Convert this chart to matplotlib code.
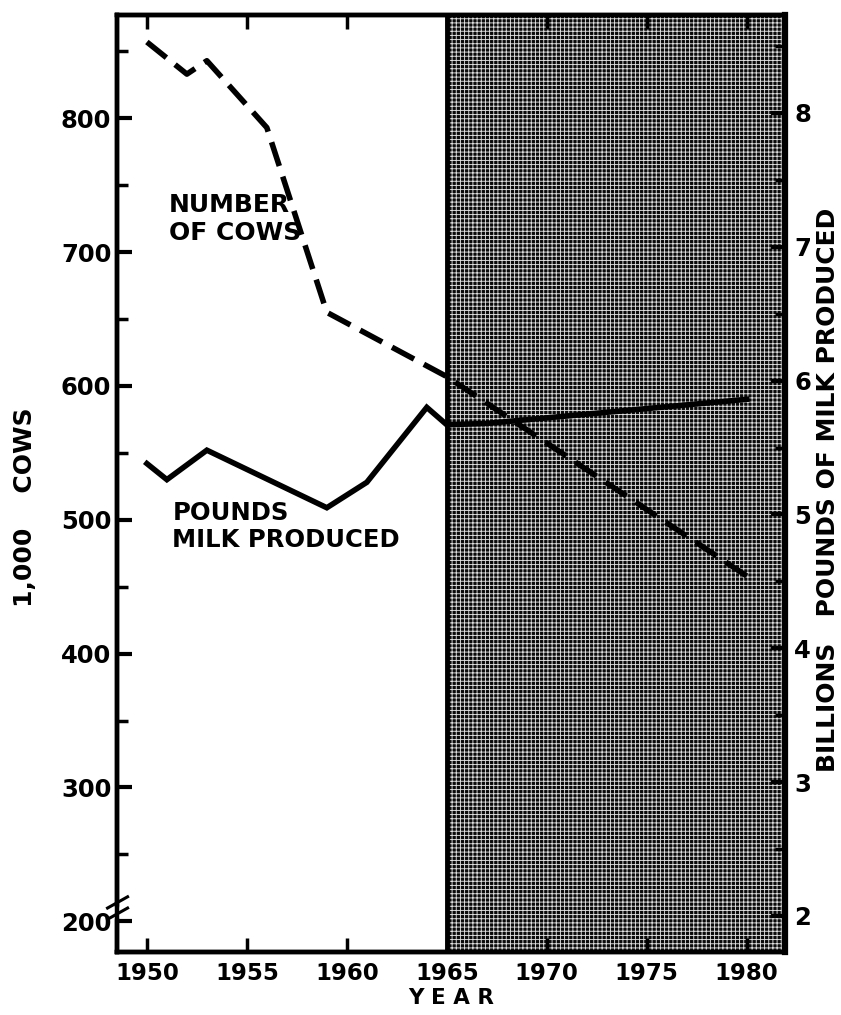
import matplotlib
matplotlib.use("Agg")
import matplotlib.pyplot as plt
from matplotlib.ticker import MultipleLocator

# number of cows (1,000 head), left axis
cow_years = [1950, 1952, 1953, 1956, 1959, 1965, 1980]
cows = [857, 833, 843, 793, 655, 607, 458]

# milk produced (billion pounds), right axis
milk_years = [1950, 1951, 1953, 1959, 1961, 1964, 1965, 1967, 1980]
milk = [5.38, 5.26, 5.48, 5.05, 5.24, 5.80, 5.67, 5.68, 5.86]

year_ticks = [1950, 1955, 1960, 1965, 1970, 1975, 1980]
projection_start = 1965

plt.rcParams['font.family'] = ['DejaVu Sans']
plt.rcParams['font.weight'] = 'bold'
plt.rcParams['hatch.linewidth'] = 0.65

fig = plt.figure(figsize=(8.41, 10.15), dpi=100)
ax = fig.add_axes([0.139, 0.062, 0.794, 0.923])

x_min, x_max = 1948.5, 1981.9
ax.set_xlim(x_min, x_max)
ax.set_ylim(177, 877)

# shaded projection period (halftone screen)
ax.axvspan(projection_start, x_max, facecolor='#0a0a0a', edgecolor='#e0e0e0',
           hatch='++++', lw=0, zorder=1)
ax.axvline(projection_start, color='black', lw=3.5, zorder=2)

ax.plot(cow_years, cows, color='black', lw=4.0, dashes=(4.5, 2.0),
        solid_capstyle='butt', zorder=5)

ax2 = ax.twinx()
ax2.set_ylim(1.73, 8.73)
ax2.plot(milk_years, milk, color='black', lw=4.0, solid_joinstyle='miter', zorder=5)

ax.set_xticks(year_ticks)
ax.set_xticklabels([str(y) for y in year_ticks], fontsize=16.5, fontweight='heavy')
ax.yaxis.set_minor_locator(MultipleLocator(50))
ax.set_yticks([200, 300, 400, 500, 600, 700, 800])
ax.set_yticklabels(['200', '300', '400', '500', '600', '700', '800'],
                   fontsize=17.5, fontweight='heavy')
ax.tick_params(axis='y', which='major', direction='in', length=11, width=3, pad=4)
ax.tick_params(axis='y', which='minor', direction='in', length=8, width=2.5)
ax.tick_params(axis='x', which='major', direction='in', length=10, width=2.5,
               pad=7, top=True)

ax2.set_yticks([2, 3, 4, 5, 6, 7, 8])
ax2.set_yticklabels(['2', '3', '4', '5', '6', '7', '8'], fontsize=17.5, fontweight='heavy')
ax2.yaxis.set_minor_locator(MultipleLocator(0.5))
ax2.tick_params(axis='y', which='major', direction='in', length=10, width=3, pad=7)
ax2.tick_params(axis='y', which='minor', direction='in', length=7, width=2.5)

for a in (ax, ax2):
    for s in a.spines.values():
        s.set_linewidth(3.2)
ax2.spines['right'].set_linewidth(4.5)

# axis break on the left spine just below 200
ax.plot([-0.004, 0.004], [0.048, 0.036], transform=ax.transAxes, color='white',
        lw=7, clip_on=False, zorder=6, solid_capstyle='butt')
for dy in (0.0, 0.012):
    ax.plot([-0.014, 0.016], [0.035 + dy, 0.047 + dy], transform=ax.transAxes,
            color='black', lw=2.2, clip_on=False, zorder=7)

ax.text(0.078, 0.81, 'NUMBER\nOF COWS', transform=ax.transAxes, fontsize=18,
        fontweight='bold', linespacing=1.2, va='top', ha='left')
ax.text(0.083, 0.482, 'POUNDS\nMILK PRODUCED', transform=ax.transAxes, fontsize=17.5,
        fontweight='bold', linespacing=1.2, va='top', ha='left')

ax.set_xlabel('Y E A R', fontsize=15.5, fontweight='bold', labelpad=2)
fig.text(0.030, 0.50, '1,000    COWS', rotation=90, fontsize=18, fontweight='bold',
         ha='center', va='center')
fig.text(0.985, 0.517, 'BILLIONS   POUNDS OF MILK PRODUCED', rotation=90,
         fontsize=18, fontweight='bold', ha='center', va='center')

fig.savefig('out.png', dpi=100)
